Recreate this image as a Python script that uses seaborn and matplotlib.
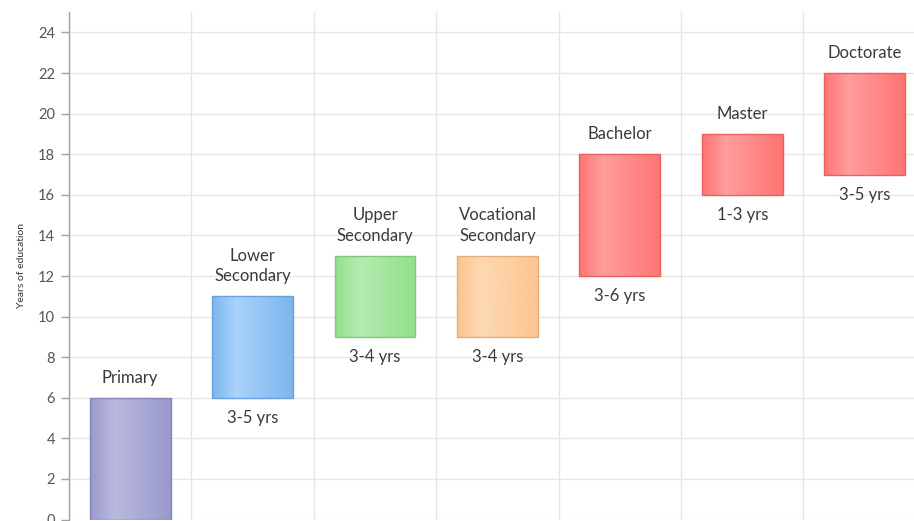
import numpy as np
import pandas as pd
import matplotlib
matplotlib.use("Agg")
import matplotlib.pyplot as plt
from matplotlib.colors import LinearSegmentedColormap
import seaborn as sns

# ==============================
#            DATA
# ==============================
levels = ["Primary", "Lower\nSecondary", "Upper\nSecondary", "Vocational\nSecondary",
          "Bachelor", "Master", "Doctorate"]
start_years = [0, 6, 9, 9, 12, 16, 17]
end_years = [6, 11, 13, 13, 18, 19, 22]
durations = ["", "3-5 yrs", "3-4 yrs", "3-4 yrs", "3-6 yrs", "1-3 yrs", "3-5 yrs"]

# base / light / edge colour per bar
base_colors = ["#9999cc", "#7cb5ec", "#92df8c", "#fdc48f", "#ff7474", "#ff7474", "#ff7474"]
light_colors = ["#b9b9de", "#a9d3fc", "#b6ebb1", "#fdd9b3", "#ff9d9d", "#ff9d9d", "#ff9d9d"]
edge_colors = ["#8585bb", "#68a3dd", "#80c97a", "#e6ad7c", "#e86060", "#e86060", "#e86060"]

sns.set_style("white")
plt.rcParams["font.family"] = ["Lato", "DejaVu Sans"]

df = pd.DataFrame({
    "level": levels,
    "start": start_years,
    "span": np.array(end_years) - np.array(start_years),
})

fig = plt.figure(figsize=(9.14, 5.21), dpi=100)
ax = fig.add_axes([0.0755, 0.0027, 0.9374, 0.974])

sns.barplot(data=df, x="level", y="span", bottom=df["start"], color="#cccccc",
            width=0.66, ax=ax, zorder=3)

# gradient fill clipped to each bar
for i, p in enumerate(ax.patches):
    x0, y0 = p.get_x(), p.get_y()
    w, h = p.get_width(), p.get_height()
    cmap = LinearSegmentedColormap.from_list(
        f"g{i}", [(0, base_colors[i]), (0.3, light_colors[i]), (1, base_colors[i])])
    grad = np.linspace(0, 1, 256).reshape(1, -1)
    im = ax.imshow(grad, cmap=cmap, aspect="auto", extent=[x0, x0 + w, y0, y0 + h],
                   zorder=3, interpolation="bicubic")
    im.set_clip_path(p)
    p.set_facecolor("none")
    p.set_edgecolor(edge_colors[i])
    p.set_linewidth(1)
    p.set_zorder(4)

# labels above / below bars
for i in range(len(levels)):
    ax.text(i, end_years[i] + 0.6, levels[i], ha="center", va="bottom",
            fontsize=12, color="#3a3a3a", linespacing=1.35, zorder=5)
    if durations[i]:
        ax.text(i, start_years[i] - 0.6, durations[i], ha="center", va="top",
                fontsize=12, color="#3a3a3a", zorder=5)

ax.set_xlim(-0.5, len(levels) - 0.5)
ax.set_ylim(0, 25)
ax.set_yticks(np.arange(0, 25, 2))
ax.set_xticks([])
ax.set_xticks(np.arange(len(levels) + 1) - 0.5, minor=True)
ax.tick_params(axis="x", which="minor", length=0)
ax.set_xlabel("")
ax.set_ylabel("Years of education", fontsize=7.5, color="#333333", labelpad=9)

ax.grid(axis="y", which="major", color="#e6e6e6", linewidth=1, zorder=0)
ax.grid(axis="x", which="minor", color="#e6e6e6", linewidth=1, zorder=0)
ax.set_axisbelow(True)

for side in ["top", "right", "bottom"]:
    ax.spines[side].set_visible(False)
ax.spines["left"].set_color("#a0a0a0")
ax.spines["left"].set_linewidth(1)
ax.tick_params(axis="y", which="major", left=True, length=6, width=1, color="#a0a0a0",
               labelsize=10.5, labelcolor="#555555", pad=4)

fig.savefig("out.png", dpi=100)
